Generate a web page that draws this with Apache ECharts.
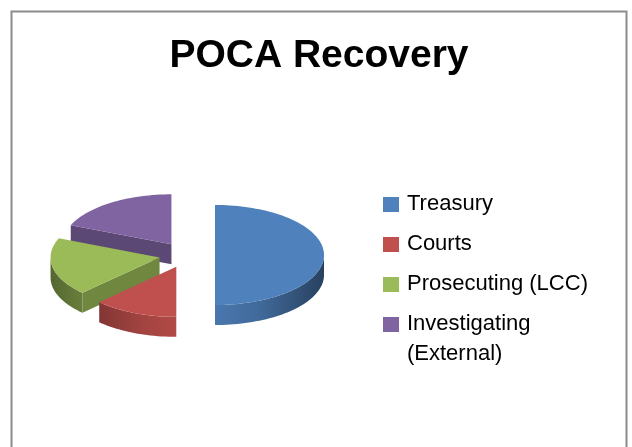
<!DOCTYPE html>
<html>
<head>
<meta charset="utf-8">
<script src="https://cdn.jsdelivr.net/npm/echarts@6/dist/echarts.min.js"></script>
<style>
  html, body { margin: 0; padding: 0; background: #fff; }
  #chart { width: 632px; height: 447px; }
</style>
</head>
<body>
<div id="chart"></div>
<script>
// data
const categories = ['Treasury', 'Courts', 'Prosecuting (LCC)', 'Investigating (External)'];
const values = [50, 12.5, 18.75, 18.75];
const colors = ['#4F81BD', '#C0504D', '#9BBB59', '#8064A2'];

let chart = echarts.init(document.getElementById('chart'));

// pie geometry (tilted ellipse)
const cx = 187, cy = 255; // centre of the top face
const rx = 109, ry = 50;  // ellipse radii
const depth = 20;          // thickness
const explode = 28;        // explosion distance
const rad = Math.PI / 180;

let total = values.reduce((a, b) => a + b, 0);
let startAngles = [];
let acc = 0;
values.forEach(v => { startAngles.push(acc / total * 360); acc += v; });

function sliceCentre(i) {
    let a0 = startAngles[i];
    let a1 = a0 + values[i] / total * 360;
    let mid = (a0 + a1) / 2 * rad;
    return [cx + explode * Math.sin(mid), cy - explode * (ry / rx) * Math.cos(mid)];
}

// draw back slices first
let order = categories.map((c, i) => i).sort((a, b) => sliceCentre(a)[1] - sliceCentre(b)[1]);

// multiply a hex colour towards black
function shade(hex, f) {
    let rgb = echarts.color.parse(hex);
    return 'rgb(' + [0, 1, 2].map(k => Math.round(rgb[k] * f)).join(',') + ')';
}

function pt(c, deg, dz) {
    return [c[0] + rx * Math.sin(deg * rad), c[1] - ry * Math.cos(deg * rad) + dz];
}

function arc(c, from, to, dz) {
    let pts = [];
    let n = Math.max(2, Math.ceil((to - from) / 2));
    for (let k = 0; k <= n; k++) pts.push(pt(c, from + (to - from) * k / n, dz));
    return pts;
}

function renderSlice(params, api) {
    let i = params.seriesIndex;
    let a0 = startAngles[i];
    let a1 = a0 + api.value(0) / total * 360;
    let c = sliceCentre(i);
    let base = colors[i];
    let rank = order.indexOf(i) * 10;
    let children = [];

    // outer wall, visible between 90 and 270 deg
    let w0 = Math.max(a0, 90), w1 = Math.min(a1, 270);
    if (w1 > w0) {
        let top = arc(c, w0, w1, 0);
        let bottom = arc(c, w0, w1, depth).reverse();
        children.push({
            type: 'polygon',
            z2: rank + 1,
            shape: { points: top.concat(bottom) },
            style: {
                fill: new echarts.graphic.LinearGradient(c[0] - rx, 0, c[0] + rx, 0, [
                    { offset: 0, color: shade(base, 0.55) },
                    { offset: 0.35, color: shade(base, 0.85) },
                    { offset: 0.5, color: shade(base, 0.92) },
                    { offset: 0.7, color: shade(base, 0.82) },
                    { offset: 1, color: shade(base, 0.5) }
                ], true)
            }
        });
    }

    // radial walls facing the viewer
    [[a0, -Math.sin(a0 * rad)], [a1, Math.sin(a1 * rad)]].forEach(([a, facing]) => {
        if (facing > 0.01) {
            let e = pt(c, a, 0);
            children.push({
                type: 'polygon',
                z2: rank + 2,
                shape: { points: [c, e, [e[0], e[1] + depth], [c[0], c[1] + depth]] },
                style: { fill: shade(base, 0.72) }
            });
        }
    });

    // top face
    children.push({
        type: 'polygon',
        z2: rank + 3,
        shape: { points: [c].concat(arc(c, a0, a1, 0)) },
        style: { fill: base }
    });

    return { type: 'group', children: children };
}

// legend drawn by hand so the marker sits on the first text line
let legendItems = [];
categories.forEach((name, i) => {
    legendItems.push({
        type: 'rect',
        shape: { x: 383, y: 197 + i * 40, width: 16, height: 15 },
        style: { fill: colors[i] }
    });
    legendItems.push({
        type: 'text',
        style: {
            x: 407, y: 189 + i * 40,
            text: name,
            font: '22px "Liberation Sans", Arial, sans-serif',
            fill: '#000',
            width: 205,
            overflow: 'break',
            lineHeight: 30,
            verticalAlign: 'top'
        }
    });
});

chart.setOption({
    animation: false,
    backgroundColor: '#fff',
    title: {
        text: 'POCA Recovery',
        left: 319,
        top: 37,
        textAlign: 'center',
        padding: 0,
        textStyle: {
            fontSize: 39,
            fontWeight: 'bold',
            fontFamily: '"Liberation Sans", Arial, sans-serif',
            color: '#000'
        }
    },
    graphic: [
        {
            type: 'rect',
            shape: { x: 11.5, y: 11.5, width: 615, height: 460 },
            style: { fill: null, stroke: '#8c8c8c', lineWidth: 2 },
            z: -1
        }
    ].concat(legendItems),
    series: categories.map((name, i) => ({
        type: 'custom',
        name: name,
        coordinateSystem: 'none',
        data: [values[i]],
        renderItem: renderSlice
    }))
});
</script>
</body>
</html>
